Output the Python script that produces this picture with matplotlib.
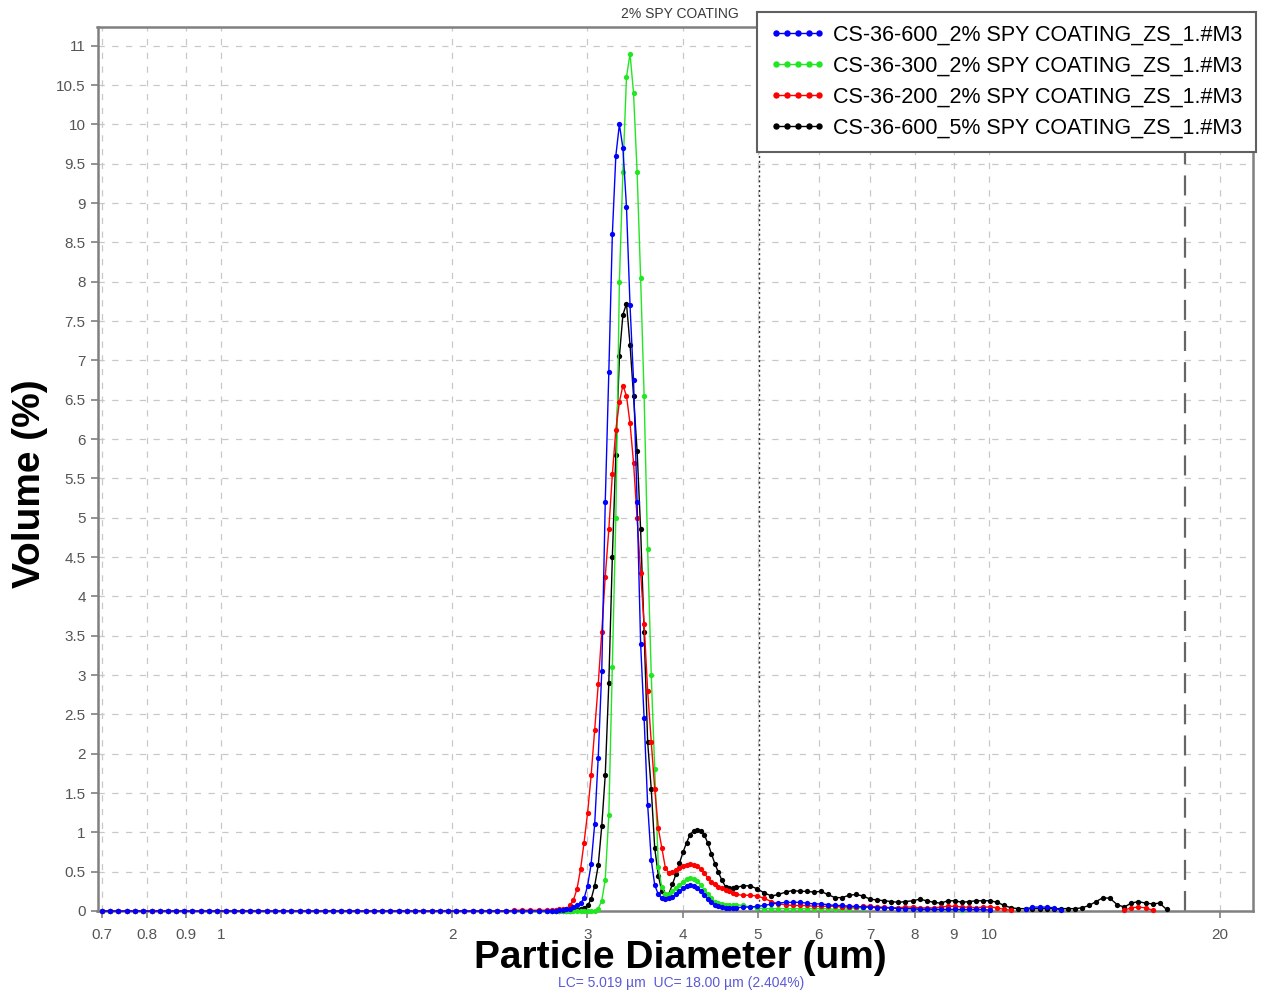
import matplotlib
matplotlib.use('Agg')
import matplotlib.pyplot as plt
from matplotlib import font_manager
from matplotlib.lines import Line2D
from matplotlib.ticker import FixedLocator, NullLocator, FuncFormatter

nan = float('nan')

# particle diameter bins (um): fine range, main peak, coarse tail
diam_low = [
    0.700, 0.718, 0.735, 0.754, 0.773, 0.792, 0.812, 0.832, 0.853, 0.874,
    0.896, 0.918, 0.941, 0.965, 0.989, 1.014, 1.039, 1.065, 1.092, 1.119,
    1.147, 1.176, 1.205, 1.235, 1.266, 1.298, 1.330, 1.364, 1.398, 1.433,
    1.468, 1.505, 1.543, 1.581, 1.621, 1.661, 1.703, 1.745, 1.789, 1.834,
    1.880, 1.927, 1.975, 2.024, 2.075, 2.127, 2.180, 2.234, 2.290, 2.348,
    2.406, 2.466, 2.528, 2.591, 2.656,
]
diam_peak = [
    2.700, 2.729, 2.758, 2.787, 2.817, 2.847, 2.877, 2.908, 2.939, 2.970,
    3.002, 3.034, 3.066, 3.099, 3.132, 3.165, 3.199, 3.233, 3.267, 3.302,
    3.337, 3.373, 3.409, 3.445, 3.482, 3.519, 3.556, 3.594, 3.633, 3.671,
    3.711, 3.750, 3.790, 3.831, 3.871, 3.913, 3.954, 3.997, 4.039, 4.082,
    4.126, 4.170, 4.214, 4.259, 4.305, 4.351, 4.397, 4.444, 4.491, 4.539,
    4.587, 4.636,
]
diam_tail = [
    4.686, 4.786, 4.889, 4.993, 5.100, 5.209, 5.320, 5.434, 5.550, 5.669,
    5.790, 5.914, 6.040, 6.170, 6.301, 6.436, 6.574, 6.714, 6.858, 7.005,
    7.154, 7.307, 7.464, 7.623, 7.786, 7.953, 8.123, 8.297, 8.474, 8.655,
    8.840, 9.030, 9.223, 9.420, 9.621, 9.827, 10.04, 10.25, 10.47, 10.69,
    10.92, 11.16, 11.39, 11.64, 11.89, 12.14, 12.40, 12.67, 12.94, 13.21,
    13.50, 13.79, 14.08, 14.38, 14.69, 15.00, 15.32, 15.65, 15.99, 16.33,
    16.68, 17.03, 17.40,
]

# volume (%) per sample
blue_low = [0.0] * 55
blue_peak = [
    0.0, 0.0, 0.01, 0.01, 0.02, 0.03, 0.05, 0.07, 0.10, 0.16,
    0.32, 0.60, 1.10, 1.95, 3.05, 5.2, 6.85, 8.6, 9.6, 10.0,
    9.7, 8.95, 7.7, 6.75, 5.2, 3.4, 2.45, 1.35, 0.65, 0.33,
    0.21, 0.16, 0.15, 0.16, 0.18, 0.21, 0.25, 0.29, 0.32, 0.33,
    0.32, 0.29, 0.25, 0.20, 0.15, 0.11, 0.08, 0.06, 0.05, 0.04,
    0.04, 0.04,
]
blue_tail = [
    0.04, 0.05, 0.05, 0.06, 0.07, 0.09, 0.10, 0.11, 0.11, 0.11,
    0.10, 0.09, 0.09, 0.08, 0.07, 0.07, 0.06, 0.06, 0.05, 0.05,
    0.04, 0.04, 0.04, 0.03, 0.03, 0.03, 0.02, 0.02, 0.02, 0.02,
    0.02, 0.02, 0.02, 0.02, 0.02, 0.02, 0.01, nan, nan, nan,
    nan, 0.02, 0.05, 0.05, 0.05, 0.04, 0.01,
]

green_low = [0.0] * 55
green_peak = [
    0.0, 0.0, 0.0, 0.0, 0.0, 0.0, 0.0, 0.0, 0.0, 0.0,
    0.0, 0.0, 0.0, 0.03, 0.13, 0.40, 1.22, 3.1, 5.0, 8.0,
    9.4, 10.6, 10.9, 10.4, 9.4, 8.05, 6.55, 4.6, 3.0, 1.8,
    0.56, 0.30, 0.22, 0.22, 0.25, 0.29, 0.33, 0.37, 0.41, 0.42,
    0.41, 0.38, 0.33, 0.27, 0.21, 0.16, 0.12, 0.10, 0.09, 0.08,
    0.08, 0.08,
]
green_tail = [
    0.08, 0.07, 0.05, 0.04, 0.03, 0.03, 0.03, 0.03, 0.03, 0.03,
    0.03, 0.03, 0.03, 0.03, 0.02, 0.02, 0.03, 0.04, 0.04, 0.05,
    0.05, 0.04, 0.04, 0.04, 0.03, 0.03, 0.03, 0.03, 0.03, 0.02,
    0.02, 0.02, 0.01,
]

red_low = [0.0] * 50 + [0.01, 0.01, 0.01, 0.01, 0.01]
red_peak = [
    0.01, 0.01, 0.02, 0.02, 0.03, 0.07, 0.14, 0.28, 0.53, 0.87,
    1.25, 1.73, 2.30, 2.88, 3.55, 4.25, 4.85, 5.55, 6.12, 6.47,
    6.68, 6.55, 6.2, 5.7, 5.0, 4.3, 3.65, 2.8, 2.15, 1.55,
    1.05, 0.80, 0.55, 0.48, 0.49, 0.52, 0.55, 0.57, 0.59, 0.60,
    0.59, 0.57, 0.53, 0.48, 0.42, 0.37, 0.34, 0.31, 0.29, 0.27,
    0.25, 0.23,
]
red_tail = [
    0.21, 0.20, 0.20, 0.19, 0.16, 0.12, 0.09, 0.08, 0.07, 0.07,
    0.07, 0.06, 0.06, 0.06, 0.06, 0.05, 0.05, 0.05, 0.06, 0.06,
    0.05, 0.05, 0.04, 0.04, 0.05, 0.05, 0.04, 0.04, 0.04, 0.05,
    0.06, 0.06, 0.05, 0.05, 0.04, 0.05, 0.05, 0.04, 0.02, 0.01,
    nan, nan, nan, nan, nan, nan, nan, nan, nan, nan,
    nan, nan, nan, nan, nan, 0.01, 0.04, 0.05, 0.04, 0.01,
]

black_low = [0.0] * 55
black_peak = [
    0.0, 0.0, 0.0, 0.0, 0.0, 0.0, 0.01, 0.01, 0.02, 0.04,
    0.07, 0.15, 0.32, 0.58, 1.08, 1.73, 2.90, 4.5, 5.8, 7.05,
    7.58, 7.72, 7.2, 6.55, 5.85, 4.85, 3.55, 2.15, 1.55, 0.80,
    0.45, 0.25, 0.17, 0.22, 0.34, 0.47, 0.61, 0.75, 0.87, 0.97,
    1.02, 1.03, 1.02, 0.97, 0.86, 0.73, 0.60, 0.49, 0.39, 0.31,
    0.29, 0.29,
]
black_tail = [
    0.30, 0.32, 0.32, 0.28, 0.23, 0.19, 0.21, 0.24, 0.26, 0.25,
    0.25, 0.24, 0.25, 0.21, 0.17, 0.17, 0.20, 0.21, 0.19, 0.15,
    0.14, 0.13, 0.12, 0.11, 0.12, 0.13, 0.15, 0.13, 0.11, 0.10,
    0.13, 0.13, 0.11, 0.12, 0.13, 0.13, 0.13, 0.11, 0.07, 0.04,
    0.03, 0.03, 0.03, 0.03, 0.03, 0.03, 0.03, 0.03, 0.03, 0.04,
    0.07, 0.12, 0.17, 0.16, 0.08, 0.05, 0.10, 0.12, 0.10, 0.09,
    0.10, 0.02,
]

labels = [
    'CS-36-600_2% SPY COATING_ZS_1.#M3',
    'CS-36-300_2% SPY COATING_ZS_1.#M3',
    'CS-36-200_2% SPY COATING_ZS_1.#M3',
    'CS-36-600_5% SPY COATING_ZS_1.#M3',
]
colors = ['#0000ff', '#22e622', '#ff0000', '#000000']
layer = [6, 4, 5, 3]  # blue on top, black at the bottom

x_ticks = [0.7, 0.8, 0.9, 1, 2, 3, 4, 5, 6, 7, 8, 9, 10, 20]
x_tick_labels = ['0.7', '0.8', '0.9', '1', '2', '3', '4', '5', '6', '7', '8', '9', '10', '20']

lc_um = 5.019
uc_um = 18.00
uc_pct = 2.404

names = {f.name for f in font_manager.fontManager.ttflist}
if 'Liberation Sans Narrow' in names:
    leg_family, leg_size = 'Liberation Sans Narrow', 19
else:
    leg_family, leg_size = 'Liberation Sans', 15.5

plt.rcParams['font.family'] = ['Liberation Sans', 'DejaVu Sans']

diam = diam_low + diam_peak + diam_tail
series = [
    blue_low + blue_peak + blue_tail,
    green_low + green_peak + green_tail,
    red_low + red_peak + red_tail,
    black_low + black_peak + black_tail,
]

W, H = 1273, 993
fig = plt.figure(figsize=(W / 100, H / 100), dpi=100)
ax = fig.add_axes([97.5 / W, 1 - 911 / H, (1253 - 97.5) / W, (911 - 27.3) / H])

for i, v in enumerate(series):
    ax.plot(diam[:len(v)], v, color=colors[i], lw=1.0, marker='o', ms=3.8,
            mew=0, zorder=layer[i], clip_on=False)

ax.set_xscale('log')
ax.set_xlim(0.6906, 22.07)
ax.set_ylim(0, 11.234)
ax.xaxis.set_major_locator(FixedLocator(x_ticks))
ax.xaxis.set_minor_locator(NullLocator())
ax.set_xticklabels(x_tick_labels)
ax.yaxis.set_major_locator(FixedLocator([i * 0.5 for i in range(23)]))
ax.yaxis.set_major_formatter(FuncFormatter(lambda y, p: f'{y:g}'))

ax.grid(True, color='#c8c8c8', lw=0.9, ls=(0, (5, 6)))
ax.set_axisbelow(True)
ax.tick_params(direction='out', length=5, width=1.2, color='#808080',
               labelcolor='#555555', labelsize=11)
ax.tick_params(axis='x', pad=7)
for s in ax.spines.values():
    s.set_color('#808080')
    s.set_linewidth(1.8)

# lower / upper cut markers
ax.axvline(lc_um, ymin=0, ymax=1.017, color='#333333', lw=1.0, ls=(0, (1.5, 2)),
           clip_on=False, zorder=2)
ax.axvline(uc_um, color='#666666', lw=1.6, ls=(0, (9, 5)), zorder=2)

handles = [Line2D([], [], color=c, lw=1.0, marker='o', ms=4.6, mew=0) for c in colors]
leg = fig.legend(handles, labels, loc='upper left', bbox_to_anchor=(757 / W, 1 - 12 / H),
                 numpoints=5, handlelength=2.6, handletextpad=0.35, labelspacing=0.46,
                 borderpad=0.6, borderaxespad=0, fancybox=False, framealpha=1,
                 edgecolor='#606060', prop={'family': leg_family, 'size': leg_size})
leg.get_frame().set_linewidth(1.5)

fig.text(680 / W, 1 - 14 / H, '2% SPY COATING', ha='center', va='center',
         fontsize=10, color='#3a3a3a')
fig.text(30 / W, 1 - 484 / H, 'Volume (%)', rotation=90, ha='center', va='center',
         fontsize=28, fontweight='bold')
fig.text(680 / W, 1 - 958 / H, 'Particle Diameter (um)', ha='center', va='center',
         fontsize=28, fontweight='bold')
fig.text(681 / W, 1 - 983 / H, f'LC= {lc_um:.3f} µm  UC= {uc_um:.2f} µm ({uc_pct:.3f}%)',
         ha='center', va='center', fontsize=10, color='#5a5ad8')

fig.savefig('out.png', dpi=100)
